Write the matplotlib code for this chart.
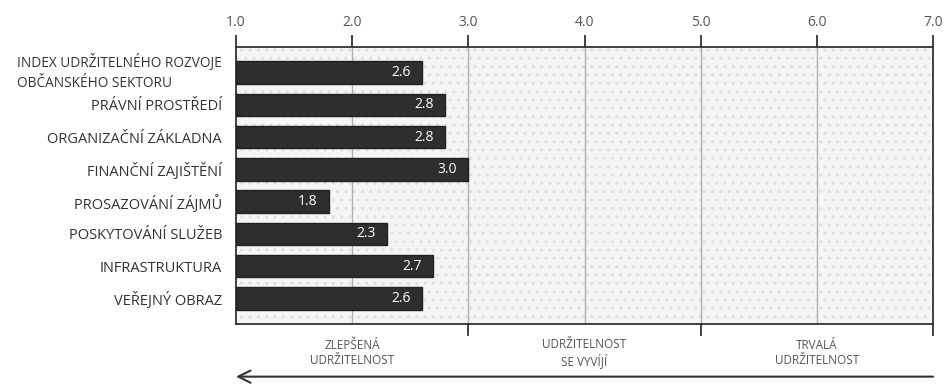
import numpy as np
import matplotlib
matplotlib.use("Agg")
import matplotlib.pyplot as plt
import matplotlib.transforms as mtransforms
from matplotlib.patches import Rectangle

# hodnoty indexu udržitelnosti podle dimenzí
categories = [
    "INDEX UDRŽITELNÉHO ROZVOJE\nOBČANSKÉHO SEKTORU",
    "PRÁVNÍ PROSTŘEDÍ",
    "ORGANIZAČNÍ ZÁKLADNA",
    "FINANČNÍ ZAJIŠTĚNÍ",
    "PROSAZOVÁNÍ ZÁJMŮ",
    "POSKYTOVÁNÍ SLUŽEB",
    "INFRASTRUKTURA",
    "VEŘEJNÝ OBRAZ",
]
values = [2.6, 2.8, 2.8, 3.0, 1.8, 2.3, 2.7, 2.6]

scale_ticks = [1.0, 2.0, 3.0, 4.0, 5.0, 6.0, 7.0]
band_edges = [3.0, 5.0, 7.0]
band_labels = ["ZLEPŠENÁ\nUDRŽITELNOST", "UDRŽITELNOST\nSE VYVÍJÍ", "TRVALÁ\nUDRŽITELNOST"]
band_centers = [2.0, 4.0, 6.0]

plt.rcParams['font.family'] = ['Open Sans', 'DejaVu Sans']

fig = plt.figure(figsize=(9.44, 3.84), dpi=100)
ax = fig.add_axes([0.25, 0.15625, 0.7384, 0.7214])

xmin, xmax = scale_ticks[0], scale_ticks[-1]
ax.set_xlim(xmin, xmax)
ax.set_ylim(len(categories) - 0.2, -0.8)

# tečkované pozadí
ax.set_facecolor("#f5f5f5")
bg = Rectangle((xmin, -0.8), xmax - xmin, len(categories) + 0.6,
               facecolor="none", edgecolor="#e0e0e0", hatch="..", linewidth=0, zorder=0)
ax.add_patch(bg)

for x in scale_ticks[1:-1]:
    ax.axvline(x, color="#b0b0b0", linewidth=1.0, zorder=1)

y = np.arange(len(categories))
ax.barh(y, [v - xmin for v in values], left=xmin, height=0.7,
        color="#2e2e2e", edgecolor="#222222", zorder=3)

for yi, v in zip(y, values):
    ax.text(v - 0.1, yi, f"{v:.1f}", ha="right", va="center",
            color="white", fontsize=10, zorder=4)

# horní stupnice
ax.xaxis.tick_top()
ax.set_xticks(scale_ticks)
ax.set_xticklabels([f"{t:.1f}" for t in scale_ticks], color="#555555", fontsize=10)
ax.tick_params(axis="x", direction="out", length=9, width=1.3, color="#333333", pad=3)

ax.set_yticks(y)
ax.set_yticklabels(categories, fontsize=10.5, color="#333333")
ax.tick_params(axis="y", length=0, pad=10)
first = ax.get_yticklabels()[0]
first.set_multialignment("left")
first.set_verticalalignment("center")
first.set_linespacing(1.45)
first.set_fontsize(9.8)

for side in ["top", "bottom", "left", "right"]:
    ax.spines[side].set_color("#333333")
    ax.spines[side].set_linewidth(1.3)

# pásma pod osou
trans = mtransforms.blended_transform_factory(ax.transData, ax.transAxes)
for e in band_edges:
    ax.plot([e, e], [0, -0.04], transform=trans, color="#333333",
            linewidth=1.3, clip_on=False)
for c, lab in zip(band_centers, band_labels):
    ax.text(c, -0.105, lab, transform=trans, ha="center", va="center",
            fontsize=8.5, color="#555555", linespacing=1.15)

ax.annotate("", xy=(xmin, -0.19), xytext=(xmax, -0.19),
            xycoords=trans, textcoords=trans,
            arrowprops=dict(arrowstyle="->", color="#333333", lw=1.5,
                            mutation_scale=22, shrinkA=0, shrinkB=0))

fig.savefig("out.png", dpi=100)
